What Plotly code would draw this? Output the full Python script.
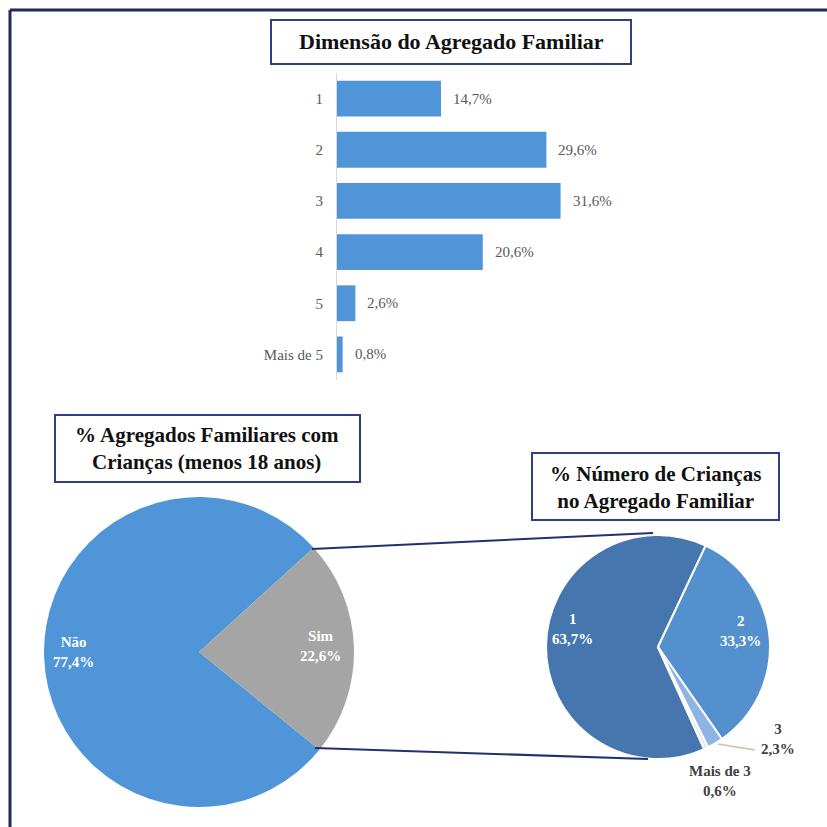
import plotly.graph_objects as go

# --- data ---------------------------------------------------------------
household_sizes = ["1", "2", "3", "4", "5", "Mais de 5"]
household_pct = [14.7, 29.6, 31.6, 20.6, 2.6, 0.8]

children_labels = ["Não", "Sim"]
children_pct = [77.4, 22.6]

num_children_labels = ["1", "2", "3", "Mais de 3"]
num_children_pct = [63.7, 33.3, 2.3, 0.6]

W = H = 827
SERIF = "Liberation Serif"
NAVY = "#1f2b5c"
BOX = "#2d3f82"


def X(px):
    return px / W


def Y(py):
    return 1 - py / H


def fmt(v):
    return f"{v:.1f}".replace(".", ",") + "%"


fig = go.Figure()

# --- bar chart: household size -----------------------------------------
ypos = list(range(len(household_sizes)))
fig.add_trace(go.Bar(
    x=household_pct, y=ypos, orientation="h",
    marker=dict(color="#5095d8", line=dict(width=0)),
    width=0.70, xaxis="x", yaxis="y", showlegend=False,
    hoverinfo="skip",
))

fig.update_layout(
    xaxis=dict(domain=[X(337), X(620)], range=[0, 40], visible=False,
               fixedrange=True),
    yaxis=dict(domain=[Y(380), Y(73)], range=[5.5, -0.5],
               tickvals=ypos, ticktext=household_sizes,
               tickfont=dict(family=SERIF, size=15, color="#595959"),
               showline=True, linecolor="#d9d9d9", linewidth=1,
               showgrid=False, zeroline=False, ticks="",
               ticklabelstandoff=10, anchor="x"),
)

annotations = []
for v, yp in zip(household_pct, ypos):
    annotations.append(dict(
        x=v, y=yp, xref="x", yref="y", text=fmt(v), showarrow=False,
        xanchor="left", yanchor="middle", xshift=10,
        font=dict(family=SERIF, size=15, color="#595959")))

# --- pie: households with children -------------------------------------
sim_deg = children_pct[1] / sum(children_pct) * 360
fig.add_trace(go.Pie(
    labels=children_labels, values=children_pct, sort=False,
    direction="clockwise", rotation=47.7 + sim_deg,
    marker=dict(colors=["#4f95d8", "#a5a5a5"], line=dict(width=0)),
    textinfo="none", hoverinfo="skip", showlegend=False,
    domain=dict(x=[X(44), X(354)], y=[Y(807), Y(497)]),
))

# --- pie: number of children -------------------------------------------
n_start = 25.2 + (num_children_pct[1] + num_children_pct[2] + num_children_pct[3]) / sum(num_children_pct) * 360
fig.add_trace(go.Pie(
    labels=num_children_labels, values=num_children_pct, sort=False,
    direction="clockwise", rotation=n_start,
    marker=dict(colors=["#4576ad", "#5590ce", "#8db4e2", "#dde8f5"],
                line=dict(color="white", width=2)),
    textinfo="none", hoverinfo="skip", showlegend=False,
    domain=dict(x=[X(546), X(770)], y=[Y(759), Y(535)]),
))

# --- pie labels ---------------------------------------------------------
white_lbl = dict(family=SERIF, size=15, color="white")
dark_lbl = dict(family=SERIF, size=15, color="#404040")
pie_label_spots = [
    (children_labels[0], children_pct[0], 73, 652, white_lbl),
    (children_labels[1], children_pct[1], 320, 646, white_lbl),
    (num_children_labels[0], num_children_pct[0], 572, 629, white_lbl),
    (num_children_labels[1], num_children_pct[1], 740, 631, white_lbl),
    (num_children_labels[2], num_children_pct[2], 778, 739, dark_lbl),
    (num_children_labels[3], num_children_pct[3], 720, 781, dark_lbl),
]
for name, v, px, py, f in pie_label_spots:
    annotations.append(dict(
        x=X(px), y=Y(py), xref="paper", yref="paper",
        text=f"<b>{name}<br>{fmt(v)}</b>", showarrow=False,
        xanchor="center", yanchor="middle", font=f))

# --- titles -------------------------------------------------------------
annotations += [
    dict(x=X(451), y=Y(42), xref="paper", yref="paper",
         text="<b>Dimensão do Agregado Familiar</b>", showarrow=False,
         xanchor="center", yanchor="middle",
         font=dict(family=SERIF, size=22, color="#111111")),
    dict(x=X(207), y=Y(449), xref="paper", yref="paper",
         text="<b>% Agregados Familiares com<br>Crianças (menos 18 anos)</b>",
         showarrow=False, xanchor="center", yanchor="middle",
         font=dict(family=SERIF, size=21, color="#111111")),
    dict(x=X(655), y=Y(487), xref="paper", yref="paper",
         text="<b>% Número de Crianças<br>no Agregado Familiar</b>",
         showarrow=False, xanchor="center", yanchor="middle",
         font=dict(family=SERIF, size=21, color="#111111")),
]

shapes = [
    # outer frame (only top and left edges fall inside the canvas)
    dict(type="line", xref="paper", yref="paper", x0=X(10), y0=Y(10),
         x1=X(830), y1=Y(10), line=dict(color=NAVY, width=3)),
    dict(type="line", xref="paper", yref="paper", x0=X(10), y0=Y(10),
         x1=X(10), y1=Y(830), line=dict(color=NAVY, width=3)),
    # title boxes
    dict(type="rect", xref="paper", yref="paper", x0=X(271), y0=Y(64),
         x1=X(631), y1=Y(20), line=dict(color=BOX, width=2)),
    dict(type="rect", xref="paper", yref="paper", x0=X(55), y0=Y(482),
         x1=X(360), y1=Y(415), line=dict(color=BOX, width=2)),
    dict(type="rect", xref="paper", yref="paper", x0=X(532), y0=Y(520),
         x1=X(779), y1=Y(453), line=dict(color=BOX, width=2)),
    # connectors between the two pies
    dict(type="line", xref="paper", yref="paper", x0=X(312), y0=Y(549),
         x1=X(653), y1=Y(533), line=dict(color="#22306f", width=2)),
    dict(type="line", xref="paper", yref="paper", x0=X(315), y0=Y(748),
         x1=X(648), y1=Y(759), line=dict(color="#22306f", width=2)),
    # leader line for the small slice label
    dict(type="line", xref="paper", yref="paper", x0=X(718), y0=Y(744),
         x1=X(755), y1=Y(750), line=dict(color="#c9c1aa", width=1.5)),
]

fig.update_layout(
    width=W, height=H, margin=dict(l=0, r=0, t=0, b=0),
    paper_bgcolor="white", plot_bgcolor="white",
    annotations=annotations, shapes=shapes, showlegend=False,
)

fig.write_html("out.html")
